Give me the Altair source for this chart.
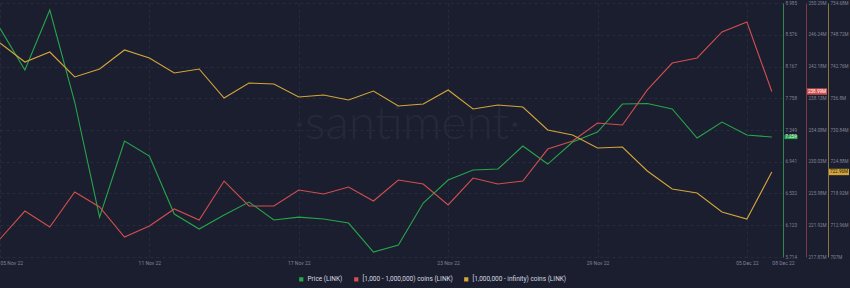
import altair as alt
import pandas as pd

# ---------------- data ----------------
dates = pd.date_range("2022-11-05", periods=32, freq="D").strftime("%Y-%m-%dT00:00:00Z").tolist()

price = [8.659, 8.122, 8.895, 7.710, 6.228, 7.207, 7.014, 6.267, 6.074, 6.254, 6.422, 6.190,
         6.228, 6.203, 6.151, 5.777, 5.868, 6.409, 6.705, 6.834, 6.847, 7.143, 6.911, 7.194,
         7.323, 7.684, 7.690, 7.620, 7.246, 7.452, 7.285, 7.259]
mid_holders = [220.17, 223.74, 221.70, 226.17, 224.25, 220.42, 221.83, 224.00, 222.59, 227.57,
               224.38, 224.38, 226.42, 225.91, 226.80, 225.02, 227.70, 227.19, 224.51, 227.95,
               227.19, 227.57, 231.65, 232.68, 234.97, 234.72, 239.19, 242.63, 243.27, 246.59,
               247.86, 238.99]
whale_holders = [747.17, 743.60, 745.48, 740.79, 742.29, 745.86, 744.36, 741.54, 742.29, 736.85,
                 739.66, 739.47, 737.03, 737.41, 736.47, 738.16, 735.34, 735.72, 738.35, 734.78,
                 735.53, 735.16, 730.84, 729.90, 727.46, 727.65, 723.14, 719.76, 719.01, 715.45,
                 714.13, 722.96]

series_names = ["Price (LINK)", "[1,000 - 1,000,000) coins (LINK)", "[1,000,000 - infinity) coins (LINK)"]
series_colors = ["#26a64b", "#d24f4f", "#d4a53a"]

price_ticks = [5.714, 6.123, 6.532, 6.941, 7.349, 7.758, 8.167, 8.576, 8.985]
mid_ticks = [217.87, 221.92, 225.98, 230.03, 234.08, 238.13, 242.18, 246.24, 250.29]
whale_ticks = [707, 712.96, 718.92, 724.88, 730.84, 736.8, 742.76, 748.72, 754.68]

x_tick_dates = ["2022-11-05", "2022-11-11", "2022-11-17", "2022-11-23", "2022-11-29", "2022-12-05"]
x_end_label = "08 Dec 22"
watermark = "\u00b7santiment\u00b7"

# ---------------- helpers ----------------
BG = "#1b1e2e"
GRID = "#272b3d"
LABEL = "#80849a"
FONT = "Roboto"
YFS = 4.6

df = pd.DataFrame({"date": dates, "price": price, "mid": mid_holders, "whale": whale_holders})
last_df = df.tail(1)

def ms(s):
    return int(pd.Timestamp(s, tz="UTC").value // 10**6)

x_start = ms("2022-11-05")
x_end = ms("2022-12-06T10:48:00")
x_vals = [ms(d) for d in x_tick_dates] + [x_end]

x_enc = alt.X(
    "date:T",
    scale=alt.Scale(type="utc", domain=[x_start, x_end]),
    axis=alt.Axis(
        title=None, values=x_vals, domain=False, ticks=False, tickSize=0,
        grid=True, gridColor=GRID, gridDash=[3, 3], gridWidth=1,
        labelColor=LABEL, labelFontSize=5, labelFont=FONT, labelPadding=3,
        labelOverlap=False, labelFlush=False,
        labelAlign={"condition": {"test": "datum.index == 0", "value": "left"}, "value": "center"},
        labelExpr=f"datum.value >= {x_end} ? '{x_end_label}' : utcFormat(datum.value, '%d %b %y')",
    ),
)

def series_layer(field, ticks, color, axis_color, offset, fmt, grid, badge_x, badge_w, badge_text_color):
    y_scale = alt.Scale(domain=[ticks[0], ticks[-1]], nice=False, zero=False)
    axis = alt.Axis(
        orient="right", offset=offset, title=None, values=ticks,
        labelExpr=fmt, ticks=False, tickSize=0, domainColor=axis_color, domainWidth=1,
        grid=grid, gridColor=GRID, gridDash=[3, 3], gridWidth=1,
        labelColor=LABEL, labelFontSize=YFS, labelFont=FONT, labelPadding=2,
        labelOverlap=False,
    )
    line = alt.Chart(df).mark_line(color=color, strokeWidth=1.1).encode(
        x=x_enc, y=alt.Y(f"{field}:Q", scale=y_scale, axis=axis)
    )
    badge = alt.Chart(last_df).mark_point(
        shape="M-1,-0.32L1,-0.32L1,0.32L-1,0.32Z", filled=True, color=color, opacity=1,
        size=badge_w * badge_w, strokeWidth=0,
    ).encode(x=alt.value(badge_x), y=alt.Y(f"{field}:Q", scale=y_scale, axis=axis))
    txt = alt.Chart(last_df).transform_calculate(
        lbl=fmt.replace("datum.value", f"datum.{field}")
    ).mark_text(
        color=badge_text_color, fontSize=4.6, font=FONT, align="center", baseline="middle"
    ).encode(x=alt.value(badge_x), y=alt.Y(f"{field}:Q", scale=y_scale, axis=axis), text="lbl:N")
    return alt.layer(line, badge, txt)

green = series_layer("price", price_ticks, series_colors[0], "#2b8a4b", 0,
                     "format(datum.value, '.3f')", True, 791, 13, "#e8ffe8")
red = series_layer("mid", mid_ticks, series_colors[1], "#7a3a42", 23,
                   "format(datum.value, '.2~f') + 'M'", False, 817, 20, "#ffffff")
yellow = series_layer("whale", whale_ticks, series_colors[2], "#8a7442", 45,
                      "format(datum.value, '.2~f') + 'M'", False, 839, 20, "#2a2410")

wm = alt.Chart(pd.DataFrame({"t": [watermark]})).mark_text(
    font="Lato", fontWeight=300, fontSize=48, color="#252939", align="center", baseline="middle"
).encode(text="t:N", x=alt.value(407), y=alt.value(122))

legend_df = pd.DataFrame({"series": series_names})
legend_layer = alt.Chart(legend_df).mark_point(filled=True, shape="square", opacity=0, size=18).encode(
    color=alt.Color(
        "series:N",
        scale=alt.Scale(domain=series_names, range=series_colors),
        legend=alt.Legend(
            orient="none", legendX=298, legendY=273, direction="horizontal", title=None,
            symbolType="square", symbolSize=18, symbolOpacity=1, symbolStrokeWidth=0,
            labelFontSize=6.5, labelColor="#d6d8e0", labelFont=FONT, columnPadding=10,
            labelOffset=3, padding=0,
        ),
    )
)

chart = alt.layer(wm, green, red, yellow, legend_layer).resolve_scale(y="independent").properties(
    width=783, height=254,
    autosize=alt.AutoSizeParams(type="none"),
    padding={"left": 0, "right": 67, "top": 3, "bottom": 31},
    background=BG,
).configure_view(stroke=None)

chart.save("out.html", embed_options={"renderer": "svg", "actions": False})
